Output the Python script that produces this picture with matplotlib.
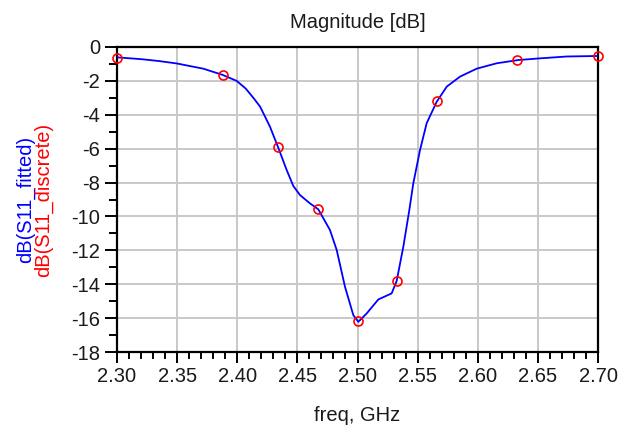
import matplotlib
matplotlib.use("Agg")
import matplotlib.pyplot as plt
from matplotlib.ticker import MultipleLocator, FormatStrFormatter

plt.rcParams['font.family'] = ['Liberation Sans', 'DejaVu Sans']
plt.rcParams['axes.unicode_minus'] = False

# fitted curve (blue)
freq_fit = [2.300, 2.3205, 2.335, 2.3496, 2.3718, 2.388, 2.3995, 2.407, 2.4134, 2.419, 2.4272,
            2.434, 2.4411, 2.4466, 2.4522, 2.4605, 2.4674, 2.4771, 2.4827, 2.4896,
            2.4965, 2.5007, 2.5077, 2.5173, 2.5284, 2.5326, 2.5381, 2.5431, 2.5464,
            2.552, 2.5575, 2.5659, 2.5742, 2.5852, 2.5991, 2.6158, 2.6337, 2.6518,
            2.674, 2.700]
s11_fit = [-0.61, -0.72, -0.83, -0.97, -1.28, -1.65, -2.0, -2.45, -3.0, -3.52, -4.70,
           -5.92, -7.26, -8.20, -8.74, -9.23, -9.58, -10.80, -11.98, -14.15,
           -15.82, -16.22, -15.72, -14.90, -14.54, -13.80, -11.79, -9.62, -8.05,
           -6.08, -4.50, -3.23, -2.34, -1.75, -1.28, -0.96, -0.77, -0.67,
           -0.56, -0.53]

# discrete points (red circles)
freq_disc = [2.30, 2.388, 2.434, 2.467, 2.50, 2.533, 2.566, 2.633, 2.70]
s11_disc = [-0.63, -1.68, -5.92, -9.58, -16.18, -13.80, -3.19, -0.77, -0.53]

x_ticks = [2.30, 2.35, 2.40, 2.45, 2.50, 2.55, 2.60, 2.65, 2.70]
y_ticks = [0, -2, -4, -6, -8, -10, -12, -14, -16, -18]

fig = plt.figure(figsize=(6.19, 4.32), dpi=100)
ax = fig.add_axes([117/619, 80/432, 481/619, 305/432])

ax.plot(freq_fit, s11_fit, color='#0000ff', lw=1.3, zorder=3)
ax.plot(freq_disc, s11_disc, linestyle='none', marker='o', ms=6.5,
        mfc='none', mec='#ff0000', mew=1.2, zorder=4, clip_on=False)

ax.set_xlim(2.30, 2.70)
ax.set_ylim(-18, 0)
ax.set_xticks(x_ticks)
ax.set_yticks(y_ticks)
ax.xaxis.set_major_formatter(FormatStrFormatter('%.2f'))
ax.xaxis.set_minor_locator(MultipleLocator(0.01))
ax.yaxis.set_minor_locator(MultipleLocator(1))

ax.grid(True, which='major', color='#c8c8c8', lw=1.4, zorder=0)
ax.set_axisbelow(True)

for s in ax.spines.values():
    s.set_color('black')
    s.set_linewidth(1.6)

ax.tick_params(axis='both', which='major', direction='out', width=1.4,
               labelsize=14.5, colors='black', labelcolor='#1a1a1a')
ax.tick_params(axis='x', which='major', length=8, pad=3)
ax.tick_params(axis='x', which='minor', length=5, width=1.4, direction='out')
ax.tick_params(axis='y', which='major', length=9, pad=3)
ax.tick_params(axis='y', which='minor', length=6, width=1.4, direction='out')

ax.set_title('Magnitude [dB]', fontsize=14.5, color='#1a1a1a', pad=14)
ax.set_xlabel('freq, GHz', fontsize=14.5, color='#1a1a1a', labelpad=14)

fig.text(25/619, 1 - 199.5/432, 'dB(S11_fitted)', rotation=90, ha='center',
         va='center', color='#0000ff', fontsize=14.5)
fig.text(43.5/619, 1 - 199.5/432, 'dB(S11_discrete)', rotation=90, ha='center',
         va='center', color='#ff0000', fontsize=14.5)

fig.savefig('out.png', dpi=100)
